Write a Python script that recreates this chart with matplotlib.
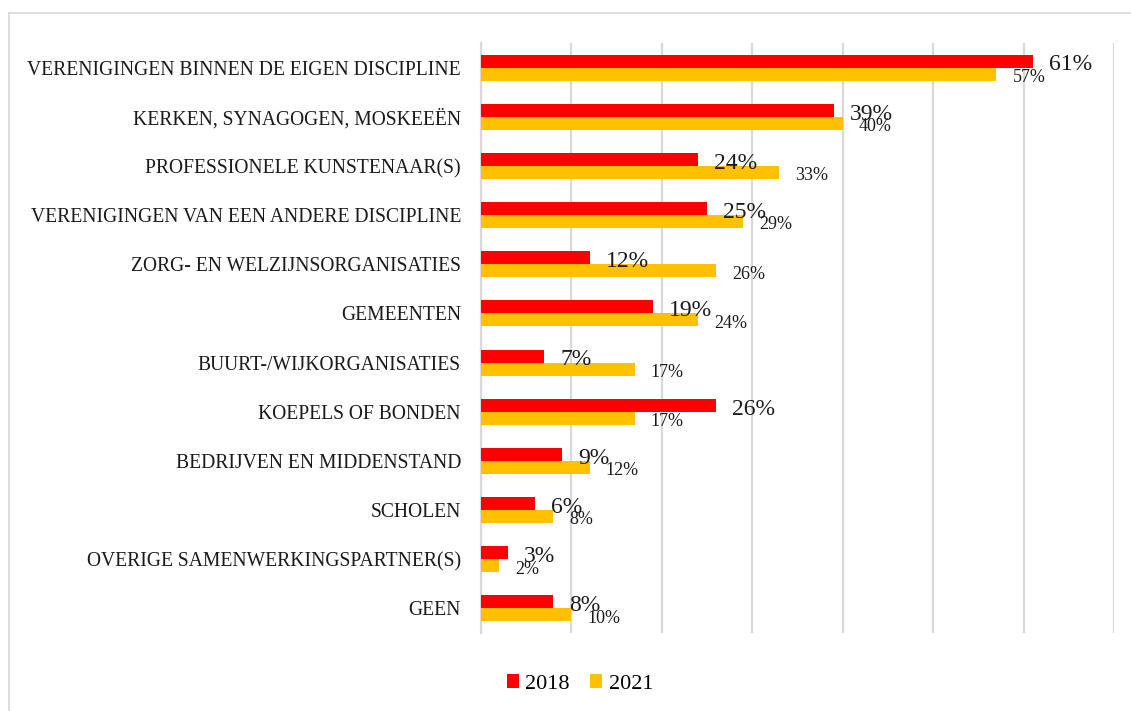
import matplotlib
matplotlib.use("Agg")
import matplotlib.pyplot as plt
from matplotlib.lines import Line2D
import numpy as np

categories = [
    "VERENIGINGEN BINNEN DE EIGEN DISCIPLINE",
    "KERKEN, SYNAGOGEN, MOSKEEËN",
    "PROFESSIONELE KUNSTENAAR(S)",
    "VERENIGINGEN VAN EEN ANDERE DISCIPLINE",
    "ZORG- EN WELZIJNSORGANISATIES",
    "GEMEENTEN",
    "BUURT-/WIJKORGANISATIES",
    "KOEPELS OF BONDEN",
    "BEDRIJVEN EN MIDDENSTAND",
    "SCHOLEN",
    "OVERIGE SAMENWERKINGSPARTNER(S)",
    "GEEN",
]
values_2018 = [61, 39, 24, 25, 12, 19, 7, 26, 9, 6, 3, 8]
values_2021 = [57, 40, 33, 29, 26, 24, 17, 17, 12, 8, 2, 10]
series_names = ["2018", "2021"]
x_ticks = [0, 10, 20, 30, 40, 50, 60, 70]

RED = "#FF0000"
YELLOW = "#FFC000"
GRID = "#D9D9D9"
FONT = "Liberation Serif"

W, H = 1131, 711
fig = plt.figure(figsize=(W / 100, H / 100), dpi=100)
ax = fig.add_axes([481 / W, 1 - 633 / H, (1114 - 481) / W, (633 - 43) / H])

y = np.arange(len(categories))
bh = 0.264
ax.barh(y - bh / 2, values_2018, height=bh, color=RED, label=series_names[0], zorder=3)
ax.barh(y + bh / 2, values_2021, height=bh, color=YELLOW, label=series_names[1], zorder=3)

ax.set_xlim(0, 70)
ax.set_ylim(len(categories) - 0.5, -0.5)
ax.set_xticks(x_ticks)
ax.set_xticklabels([])
ax.tick_params(axis="x", length=0)
ax.tick_params(axis="y", length=0, pad=14.4)
ax.set_yticks(y)
ax.set_yticklabels(categories, fontsize=14.1, family=FONT, color="#1a1a1a")
ax.grid(axis="x", color=GRID, linewidth=1.6, zorder=0)
for s in ["top", "right", "bottom"]:
    ax.spines[s].set_visible(False)
ax.spines["left"].set_color(GRID)
ax.spines["left"].set_linewidth(1.6)

for i, (a, b) in enumerate(zip(values_2018, values_2021)):
    ax.annotate(f"{a}%", (a, i - bh / 2), xytext=(11.5, -1), textcoords="offset points",
                ha="left", va="center_baseline", fontsize=17, family=FONT, color="#1a1a1a", zorder=4)
    ax.annotate(f"{b}%", (b, i + bh / 2), xytext=(11.5, -1), textcoords="offset points",
                ha="left", va="center_baseline", fontsize=13, family=FONT, color="#1a1a1a", zorder=4)

leg = fig.legend(loc="center", bbox_to_anchor=(580 / W, 1 - 684 / H), ncol=2, frameon=False,
                 prop={"family": FONT, "size": 16}, handlelength=0.55, handleheight=0.55,
                 handletextpad=0.3, columnspacing=0.9)

fig.add_artist(Line2D([9 / W, 1.0], [1 - 13 / H, 1 - 13 / H], transform=fig.transFigure,
                      color=GRID, linewidth=1.2))
fig.add_artist(Line2D([9 / W, 9 / W], [1 - 13 / H, 0], transform=fig.transFigure,
                      color=GRID, linewidth=1.2))

fig.savefig("out.png", dpi=100)
